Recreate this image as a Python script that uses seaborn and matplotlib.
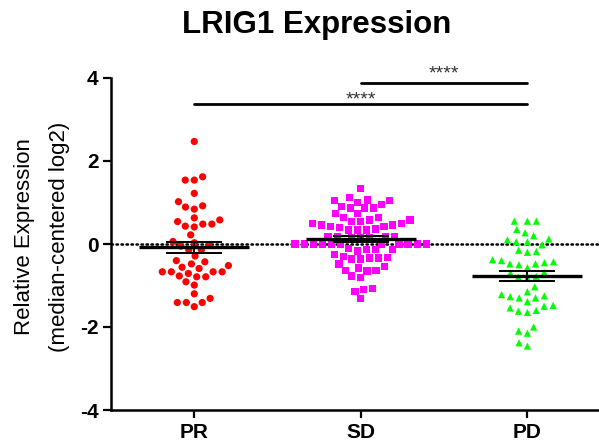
import numpy as np
import pandas as pd
import matplotlib
matplotlib.use("Agg")
import matplotlib.pyplot as plt
import seaborn as sns

groups = ["PR", "SD", "PD"]
pr_vals = [2.47, 1.62, 1.54, 1.54, 1.22, 1.02, 0.92, 0.84, 0.89, 0.63, 0.58, 0.54,
           0.48, 0.43, 0.48, 0.41, 0.22, 0.06, 0.03, -0.02, -0.05, -0.14, -0.14,
           -0.29, -0.40, -0.43, -0.48, -0.52, -0.56, -0.59, -0.67, -0.67, -0.67,
           -0.67, -0.71, -0.77, -0.79, -0.79, -0.91, -0.99, -1.20, -1.31, -1.41,
           -1.41, -1.41, -1.51]
sd_vals = [1.33, 1.12, 1.04, 1.00, 0.90, 0.87, 0.87, 0.87, 0.96, 1.04, 1.06, 0.74,
           0.74, 0.63, 0.63, 0.58, 0.58, 0.55, 0.55, 0.50, 0.46, 0.50, 0.46, 0.42,
           0.42, 0.40, 0.34, 0.34, 0.34, 0.36, 0.19, 0.19, 0.19, 0.19, 0.15, 0.15,
           0.15, 0.00, 0.00, 0.00, 0.00, 0.00, 0.00, 0.00, 0.00, 0.00, 0.00, 0.00,
           0.00, -0.14, -0.14, -0.14, -0.10, -0.17, -0.34, -0.34, -0.36, -0.36,
           -0.32, -0.30, -0.25, -0.48, -0.55, -0.58, -0.63, -0.63, -0.65, -0.77,
           -0.80, -1.10, -1.07, -1.15, -1.31]
pd_vals = [0.55, 0.55, 0.55, 0.35, 0.27, 0.20, 0.12, 0.05, 0.05, 0.10, -0.02, -0.18,
           -0.20, -0.15, -0.43, -0.38, -0.48, -0.50, -0.48, -0.45, -0.40, -0.57,
           -0.68, -0.70, -0.80, -0.78, -0.82, -1.03, -1.22, -1.27, -1.30, -1.15,
           -1.25, -1.30, -1.39, -1.54, -1.62, -1.65, -1.60, -1.50, -1.48, -2.10,
           -2.00, -2.15, -2.46, -2.38]
colors = ["#ff0000", "#ff00ff", "#00ff00"]
markers = ["o", "s", "^"]
yticks = [-4, -2, 0, 2, 4]
sig_label = "****"
title = "LRIG1 Expression"

sns.set_style("ticks")
plt.rcParams["font.family"] = ["Liberation Sans", "DejaVu Sans"]
plt.rcParams["text.color"] = "black"
plt.rcParams["xtick.color"] = "black"
plt.rcParams["ytick.color"] = "black"

df = pd.DataFrame({
    "group": ["PR"] * len(pr_vals) + ["SD"] * len(sd_vals) + ["PD"] * len(pd_vals),
    "value": pr_vals + sd_vals + pd_vals,
})

fig = plt.figure(figsize=(5.99, 4.48), dpi=100)
ax = fig.add_axes([111 / 599, 1 - 410 / 448, 1 - 111 / 599, (410 - 78) / 448])

for g, c, m in zip(groups, colors, markers):
    sub = df[df["group"] == g]
    sns.swarmplot(data=sub, x="group", y="value", order=groups, color=c, marker=m,
                  size=5.2, linewidth=1.0, ax=ax, zorder=3)
for coll in ax.collections:
    coll.set_edgecolor("none")

ax.set_xlim(-0.5, 2.43)
ax.set_ylim(-4, 4)

# zero reference line
ax.axhline(0, color="black", lw=1.8, ls=(0, (0.6, 1.4)), dash_capstyle="round", zorder=2)

# mean and SEM
stats = df.groupby("group", sort=False)["value"].agg(["mean", "sem"]).reindex(groups)
xpos = np.arange(len(groups))
ax.hlines(stats["mean"], xpos - 0.33, xpos + 0.33, color="black", lw=2.4, zorder=5)
ax.errorbar(xpos, stats["mean"], yerr=stats["sem"], fmt="none", ecolor="black",
            elinewidth=1.4, capsize=20, capthick=1.4, zorder=5)

# significance bars
ax.plot([0, 2], [3.37, 3.37], color="black", lw=2.0, clip_on=False)
ax.plot([1, 2], [3.88, 3.88], color="black", lw=2.0, clip_on=False)
ax.text(1.0, 3.47, sig_label, ha="center", va="center", fontsize=14, color="#333333")
ax.text(1.5, 4.10, sig_label, ha="center", va="center", fontsize=14, color="#333333")

ax.set_yticks(yticks)
ax.set_yticklabels([str(t) for t in yticks], fontsize=15, fontweight="bold")
ax.set_xticks(xpos)
ax.set_xticklabels(groups, fontsize=15, fontweight="bold")
ax.set_xlabel("")
ax.set_ylabel("")
ax.tick_params(axis="both", length=6, width=1.6, color="black", labelcolor="black", pad=3)

for s in ["top", "right"]:
    ax.spines[s].set_visible(False)
for s in ["left", "bottom"]:
    ax.spines[s].set_linewidth(1.8)
    ax.spines[s].set_color("black")

fig.text(25 / 599, 1 - 237 / 448, "Relative Expression", rotation=90,
         ha="center", va="center", fontsize=16, color="black")
fig.text(60 / 599, 1 - 237 / 448, "(median-centered log2)", rotation=90,
         ha="center", va="center", fontsize=16, color="black")
fig.text(317 / 599, 1 - 25 / 448, title, ha="center", va="center",
         fontsize=22.5, fontweight="bold", color="black")

fig.savefig("out.png", dpi=100)
